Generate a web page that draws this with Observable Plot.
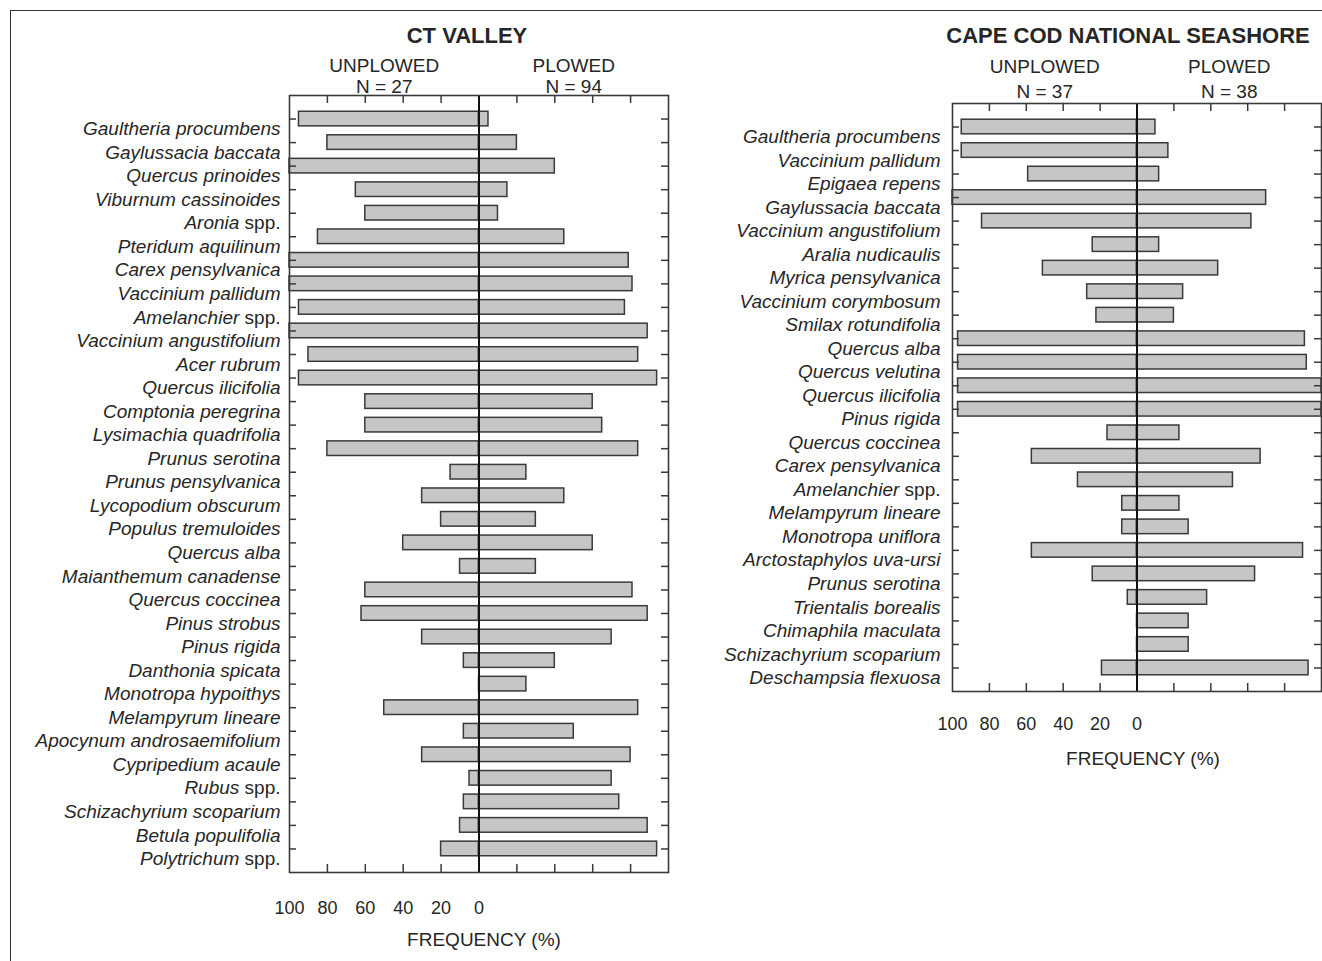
<!DOCTYPE html>
<html>
<head>
<meta charset="utf-8">
<script src="https://cdn.jsdelivr.net/npm/d3@7"></script>
<script src="https://cdn.jsdelivr.net/npm/@observablehq/plot@0.6"></script>
<style>
  html, body { margin: 0; padding: 0; background: #fff; overflow: hidden; }
  #page { position: relative; width: 1322px; height: 961px; font-family: "Liberation Sans", Arial, sans-serif; }
  #border { position: absolute; left: 10px; top: 10px; width: 1320px; height: 960px;
            border-left: 1.5px solid #333; border-top: 1.5px solid #333; }
  #ct { position: absolute; left: 0; top: 0; }
  #cc { position: absolute; left: 700px; top: 0; }
</style>
</head>
<body>
<div id="page"><div id="border"></div><div id="ct"></div><div id="cc"></div></div>
<script>
// ---------- DATA ----------
const ctSpecies = [
  "Gaultheria procumbens", "Gaylussacia baccata", "Quercus prinoides", "Viburnum cassinoides",
  "Aronia spp.", "Pteridum aquilinum", "Carex pensylvanica", "Vaccinium pallidum",
  "Amelanchier spp.", "Vaccinium angustifolium", "Acer rubrum", "Quercus ilicifolia",
  "Comptonia peregrina", "Lysimachia quadrifolia", "Prunus serotina", "Prunus pensylvanica",
  "Lycopodium obscurum", "Populus tremuloides", "Quercus alba", "Maianthemum canadense",
  "Quercus coccinea", "Pinus strobus", "Pinus rigida", "Danthonia spicata",
  "Monotropa hypoithys", "Melampyrum lineare", "Apocynum androsaemifolium", "Cypripedium acaule",
  "Rubus spp.", "Schizachyrium scoparium", "Betula populifolia", "Polytrichum spp."
];
const ctUnplowed = [95, 80, 100, 65, 60, 85, 100, 100, 95, 100, 90, 95, 60, 60, 80, 15,
                    30, 20, 40, 10, 60, 62, 30, 8, 0, 50, 8, 30, 5, 8, 10, 20];
const ctPlowed   = [5, 20, 40, 15, 10, 45, 79, 81, 77, 89, 84, 94, 60, 65, 84, 25,
                    45, 30, 60, 30, 81, 89, 70, 40, 25, 84, 50, 80, 70, 74, 89, 94];

const ccSpecies = [
  "Gaultheria procumbens", "Vaccinium pallidum", "Epigaea repens", "Gaylussacia baccata",
  "Vaccinium angustifolium", "Aralia nudicaulis", "Myrica pensylvanica", "Vaccinium corymbosum",
  "Smilax rotundifolia", "Quercus alba", "Quercus velutina", "Quercus ilicifolia",
  "Pinus rigida", "Quercus coccinea", "Carex pensylvanica", "Amelanchier spp.",
  "Melampyrum lineare", "Monotropa uniflora", "Arctostaphylos uva-ursi", "Prunus serotina",
  "Trientalis borealis", "Chimaphila maculata", "Schizachyrium scoparium", "Deschampsia flexuosa"
];
const ccUnplowed = [95, 95, 59, 100, 84, 24, 51, 27, 22, 97, 97, 97,
                    97, 16, 57, 32, 8, 8, 57, 24, 5, 0, 0, 19];
const ccPlowed   = [10, 17, 12, 70, 62, 12, 44, 25, 20, 91, 92, 100,
                    100, 23, 67, 52, 23, 28, 90, 64, 38, 28, 28, 93];

const xTickValues  = [-80, -60, -40, -20, 20, 40, 60, 80];
const xLabelValues = [-100, -80, -60, -40, -20, 0];
const sideLabels   = ["UNPLOWED", "PLOWED"];

// ---------- DRAW ----------
const INK = "#262626";
const BAR_FILL = "#c6c6c6";
const BAR_STROKE = "#3a3a3a";

function panel(o) {
  const rows = o.species.map((s, i) => ({species: s, unplowed: o.unplowed[i], plowed: o.plowed[i]}));
  const frameW = o.width - o.marginLeft - o.marginRight;
  const frameH = o.height - o.marginTop - o.marginBottom;
  const heads = sideLabels.map((s, i) => ({side: s, n: o.n[i], sign: i === 0 ? -1 : 1}));
  const svg = Plot.plot({
    width: o.width, height: o.height,
    marginLeft: o.marginLeft, marginRight: o.marginRight,
    marginTop: o.marginTop, marginBottom: o.marginBottom,
    style: {fontFamily: '"Liberation Sans", Arial, sans-serif', color: INK, background: "transparent", overflow: "visible"},
    x: {domain: [-100, 100], axis: null},
    y: {domain: o.species, paddingInner: 0.38, paddingOuter: 0.69, round: false, axis: null},
    marks: [
      Plot.barX(rows.filter(d => d.unplowed > 0), {y: "species", x1: d => -d.unplowed, x2: 0,
        fill: BAR_FILL, stroke: BAR_STROKE, strokeWidth: 1.5}),
      Plot.barX(rows.filter(d => d.plowed > 0), {y: "species", x1: 0, x2: "plowed",
        fill: BAR_FILL, stroke: BAR_STROKE, strokeWidth: 1.5}),
      Plot.ruleX([0], {stroke: "#111", strokeWidth: 2}),
      Plot.frame({stroke: "#3a3a3a", strokeWidth: 1.6}),
      // inward ticks
      Plot.tickX(xTickValues, {x: d => d, insetBottom: frameH - 8, stroke: "#3a3a3a", strokeWidth: 1.5}),
      Plot.tickX(xTickValues, {x: d => d, insetTop: frameH - 8, stroke: "#3a3a3a", strokeWidth: 1.5}),
      Plot.tickY(o.species, {y: d => d, insetRight: frameW - 7, stroke: "#3a3a3a", strokeWidth: 1.5}),
      Plot.tickY(o.species, {y: d => d, insetLeft: frameW - 7, stroke: "#3a3a3a", strokeWidth: 1.5}),
      // species labels
      Plot.text(rows, {y: "species", text: "species", frameAnchor: "left", textAnchor: "end",
        lineAnchor: "middle", dx: o.labelDx, dy: 10, fontSize: 19, fontStyle: "italic", fill: INK}),
      // bottom numbers
      Plot.text(xLabelValues, {x: d => d, text: d => String(-d), frameAnchor: "bottom", lineAnchor: "middle",
        dy: o.numDy, fontSize: 18, fill: INK}),
      Plot.text(["FREQUENCY (%)"], {frameAnchor: "bottom", lineAnchor: "middle", dx: o.freqDx, dy: o.freqDy,
        fontSize: 19, fill: INK}),
      // headers
      Plot.text(heads, {x: d => d.sign * 50, text: "side", frameAnchor: "top", lineAnchor: "middle",
        dy: o.headDy, fontSize: 19, fill: INK}),
      Plot.text(heads, {x: d => d.sign * 50, text: d => `N = ${d.n}`, frameAnchor: "top", lineAnchor: "middle",
        dy: o.nDy, fontSize: 19, fill: INK}),
      Plot.text([o.title], {frameAnchor: "top", lineAnchor: "middle", dx: o.titleDx, dy: o.titleDy,
        fontSize: 22, fontWeight: "bold", fill: INK})
    ]
  });
  // "spp." is set upright in the original
  d3.select(svg).selectAll("text").each(function () {
    const t = this.textContent;
    if (t.endsWith(" spp.") && this.children.length === 0) {
      const genus = t.slice(0, -5);
      this.textContent = "";
      d3.select(this).append("tspan").text(genus);
      d3.select(this).append("tspan").attr("font-style", "normal").text(" spp.");
    }
  });
  return svg;
}

document.getElementById("ct").appendChild(panel({
  title: "CT VALLEY", species: ctSpecies, unplowed: ctUnplowed, plowed: ctPlowed, n: [27, 94],
  width: 690, height: 960, marginLeft: 289, marginRight: 22, marginTop: 95, marginBottom: 88,
  labelDx: -9, numDy: 36, freqDx: 5, freqDy: 67, headDy: -30, nDy: -9, titleDx: -12, titleDy: -60
}));

document.getElementById("cc").appendChild(panel({
  title: "CAPE COD NATIONAL SEASHORE", species: ccSpecies, unplowed: ccUnplowed, plowed: ccPlowed, n: [37, 38],
  width: 622, height: 771, marginLeft: 252, marginRight: 1, marginTop: 103, marginBottom: 80,
  labelDx: -12, numDy: 33, freqDx: 6, freqDy: 67, headDy: -37, nDy: -12, titleDx: -9, titleDy: -68
}));
</script>
</body>
</html>
